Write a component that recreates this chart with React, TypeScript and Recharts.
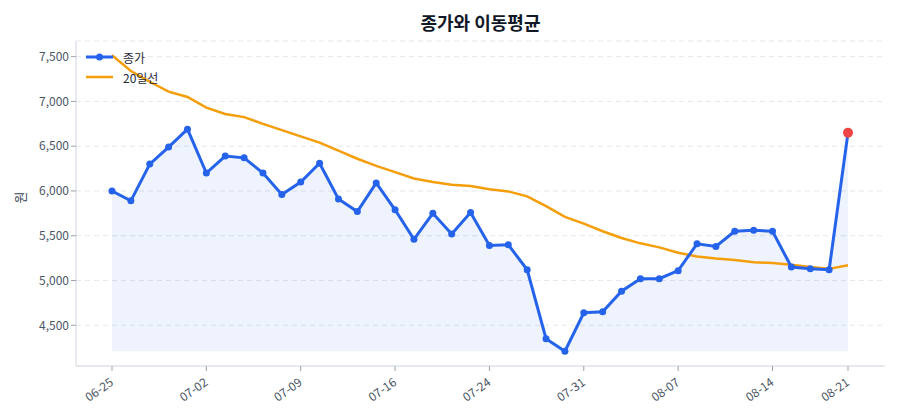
import React from "react";
import { ComposedChart, Line, Area, XAxis, YAxis, CartesianGrid, Label } from "recharts";

const dates = [
  "06-25", "06-26", "06-27", "06-28", "07-01", "07-02", "07-03", "07-04", "07-05", "07-08",
  "07-09", "07-10", "07-11", "07-12", "07-15", "07-16", "07-17", "07-18", "07-19", "07-22",
  "07-24", "07-25", "07-26", "07-29", "07-30", "07-31", "08-01", "08-02", "08-05", "08-06",
  "08-07", "08-08", "08-09", "08-12", "08-13", "08-14", "08-16", "08-19", "08-20", "08-21",
];

const closePrices = [
  6000, 5890, 6300, 6490, 6690, 6200, 6390, 6370, 6200, 5960,
  6100, 6310, 5910, 5770, 6090, 5790, 5460, 5750, 5520, 5760,
  5390, 5400, 5120, 4350, 4210, 4640, 4650, 4880, 5020, 5020,
  5110, 5410, 5380, 5550, 5560, 5550, 5150, 5130, 5120, 6650,
];

const ma20 = [
  7515, 7340, 7220, 7110, 7050, 6930, 6860, 6825, 6750, 6680,
  6610, 6540, 6450, 6360, 6280, 6210, 6140, 6100, 6070, 6055,
  6020, 5995, 5940, 5830, 5710, 5635, 5550, 5475, 5415, 5370,
  5310, 5268, 5245, 5230, 5205, 5195, 5175, 5150, 5130, 5170,
];

const xTicks = ["06-25", "07-02", "07-09", "07-16", "07-24", "07-31", "08-07", "08-14", "08-21"];
const yTicks = [4500, 5000, 5500, 6000, 6500, 7000, 7500];

const data = dates.map((d, i) => ({ date: d, close: closePrices[i], ma: ma20[i] }));
const baseLine = Math.min(...closePrices);

const FONT = "'Noto Sans CJK KR', 'Noto Sans', sans-serif";
const BLUE = "#2563eb";
const ORANGE = "#f59e0b";

const XTick = ({ x, y, payload }: any) => (
  <g transform={`translate(${x},${y + 8})`}>
    <text textAnchor="end" transform="rotate(-35)" fontSize={12} fill="#4b5563" fontFamily={FONT} dy={4}>
      {payload.value}
    </text>
  </g>
);

const CloseDot = (props: any) => {
  const { cx, cy, index } = props;
  if (index === closePrices.length - 1) {
    return <circle key={`d-${index}`} cx={cx} cy={cy} r={5} fill="#ef4444" />;
  }
  return <circle key={`d-${index}`} cx={cx} cy={cy} r={3.5} fill={BLUE} />;
};

const LegendBox = () => (
  <div style={{ position: "absolute", left: 86, top: 47, fontFamily: FONT, fontSize: 12, color: "#1f2937", zIndex: 2 }}>
    <div style={{ display: "flex", alignItems: "center", height: 20 }}>
      <svg width={37} height={10}>
        <line x1={0} y1={5} x2={27} y2={5} stroke={BLUE} strokeWidth={3} />
        <circle cx={13.5} cy={5} r={3.5} fill={BLUE} />
      </svg>
      <span>종가</span>
    </div>
    <div style={{ display: "flex", alignItems: "center", height: 20 }}>
      <svg width={37} height={10}>
        <line x1={0} y1={5} x2={27} y2={5} stroke={ORANGE} strokeWidth={2.5} />
      </svg>
      <span>20일선</span>
    </div>
  </div>
);

export default function App() {
  return (
    <div style={{ position: "fixed", left: 0, top: 0, width: 900, height: 420, background: "#fff", fontFamily: FONT }}>
      <div
        style={{
          position: "absolute",
          left: 76,
          width: 809,
          top: 9,
          textAlign: "center",
          fontSize: 18,
          fontWeight: 700,
          color: "#111827",
        }}
      >
        종가와 이동평균
      </div>
      <ComposedChart width={900} height={420} data={data} margin={{ top: 41, right: 15, bottom: 10, left: 16 }}>
        <CartesianGrid horizontal vertical={false} stroke="#e5e7eb" strokeDasharray="5 4" />
        <XAxis
          dataKey="date"
          scale="point"
          padding={{ left: 36, right: 37 }}
          ticks={xTicks}
          interval={0}
          tick={<XTick />}
          height={44}
          axisLine={{ stroke: "#dfe3e8", strokeWidth: 1.5 }}
          tickLine={{ stroke: "#9ca3af" }}
          tickSize={5}
        />
        <YAxis
          type="number"
          domain={[4045, 7675]}
          allowDataOverflow
          ticks={yTicks}
          width={60}
          tickFormatter={(v: number) => v.toLocaleString("en-US")}
          tick={{ fontSize: 12, fill: "#4b5563", fontFamily: FONT }}
          axisLine={{ stroke: "#dfe3e8", strokeWidth: 1.5 }}
          tickLine={{ stroke: "#9ca3af" }}
          tickSize={5}
        >
          <Label value="원" angle={-90} position="insideLeft" offset={4} style={{ fontSize: 13, fill: "#374151", fontFamily: FONT }} />
        </YAxis>
        <Area
          type="linear"
          dataKey="close"
          baseValue={baseLine}
          stroke="none"
          fill={BLUE}
          fillOpacity={0.08}
          isAnimationActive={false}
          activeDot={false}
        />
        <Line
          type="linear"
          dataKey="ma"
          stroke={ORANGE}
          strokeWidth={2.5}
          dot={false}
          isAnimationActive={false}
        />
        <Line
          type="linear"
          dataKey="close"
          stroke={BLUE}
          strokeWidth={3}
          dot={CloseDot}
          isAnimationActive={false}
        />
      </ComposedChart>
      <LegendBox />
    </div>
  );
}
